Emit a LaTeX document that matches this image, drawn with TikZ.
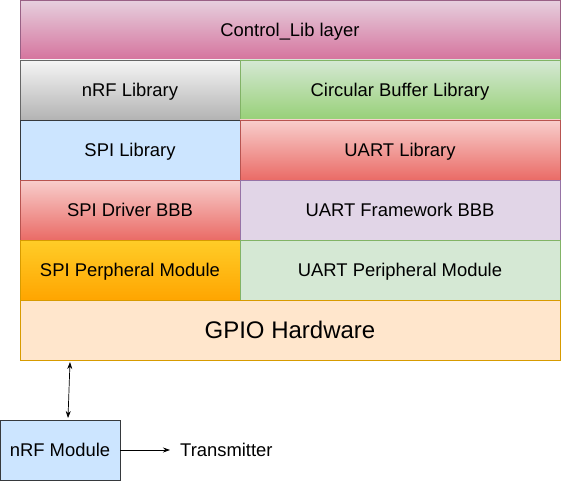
\documentclass[tikz,border=0pt]{standalone}
\usepackage{fontspec}
\setmainfont{Liberation Sans}
\usetikzlibrary{positioning,calc,arrows.meta}

\begin{document}
\begin{tikzpicture}[x=1pt,y=1pt,
	layer/.style={draw, line width=0.8pt, outer sep=0pt, inner sep=0pt, minimum height=60pt, text height=12.5pt, text depth=0pt, font=\fontsize{18.4}{21}\selectfont},
	widebox/.style={layer, minimum width=540pt},
	leftbox/.style={layer, minimum width=220pt},
	rightbox/.style={layer, minimum width=320pt},
	>={Stealth[length=7pt,width=5pt]}]
	\useasboundingbox (0,0) rectangle (561,-481);
	\definecolor{ctrltop}{HTML}{E6D0DE}\definecolor{ctrlbot}{HTML}{D5739D}\definecolor{ctrlline}{HTML}{996185}
	\definecolor{greytop}{HTML}{F5F5F5}\definecolor{greybot}{HTML}{B3B3B3}\definecolor{greyline}{HTML}{666666}
	\definecolor{greentop}{HTML}{D5E8D4}\definecolor{greenbot}{HTML}{97D077}\definecolor{greenline}{HTML}{82B366}
	\definecolor{bluefill}{HTML}{CCE5FF}\definecolor{blueline}{HTML}{36393D}
	\definecolor{redtop}{HTML}{F8CECC}\definecolor{redbot}{HTML}{EA6B66}\definecolor{redline}{HTML}{B85450}
	\definecolor{purplefill}{HTML}{E1D5E7}\definecolor{purpleline}{HTML}{9673A6}
	\definecolor{orangetop}{HTML}{FFCD28}\definecolor{orangebot}{HTML}{FFA500}\definecolor{orangeline}{HTML}{D79B00}
	\definecolor{peachfill}{HTML}{FFE6CC}
	
	\node[widebox, top color=ctrltop, bottom color=ctrlbot, draw=ctrlline] (ctrl) at (290,-30) {Control\_Lib layer};
	
	\node[leftbox, top color=greytop, bottom color=greybot, draw=greyline] (nrflib) at (130,-90) {nRF Library};
	\node[rightbox, top color=greentop, bottom color=greenbot, draw=greenline] (buflib) at (400,-90) {Circular Buffer Library};
	
	\node[leftbox, fill=bluefill, draw=blueline] (spilib) at (130,-150) {SPI Library};
	\node[rightbox, top color=redtop, bottom color=redbot, draw=redline] (uartlib) at (400,-150) {UART Library};
	
	\node[leftbox, top color=redtop, bottom color=redbot, draw=redline] (spidrv) at (130,-210) {SPI Driver BBB};
	\node[rightbox, fill=purplefill, draw=purpleline] (uartfw) at (400,-210) {UART Framework BBB};
	
	\node[leftbox, top color=orangetop, bottom color=orangebot, draw=orangeline] (spiper) at (130,-270) {SPI Perpheral Module};
	\node[rightbox, fill=greentop, draw=greenline] (uartper) at (400,-270) {UART Peripheral Module};
	
	\node[widebox, fill=peachfill, draw=orangeline, text height=17pt, font=\fontsize{24}{28}\selectfont] (gpio) at (290,-330) {GPIO Hardware};
	
	\node[layer, minimum width=120pt, fill=bluefill, draw=blueline] (nrfmod) at (60,-450) {nRF Module};
	\node[right=60pt of nrfmod, inner sep=0pt, text height=12.5pt, text depth=0pt, font=\fontsize{18.4}{21}\selectfont] (tx) {Transmitter};
	
	\draw[<->, line width=0.7pt] ($(gpio.south west)+(50,-2)$) -- ($(nrfmod.north)+(8,2)$);
	\draw[->, line width=0.7pt, shorten >=10pt] (nrfmod) -- (tx);
\end{tikzpicture}
\end{document}
